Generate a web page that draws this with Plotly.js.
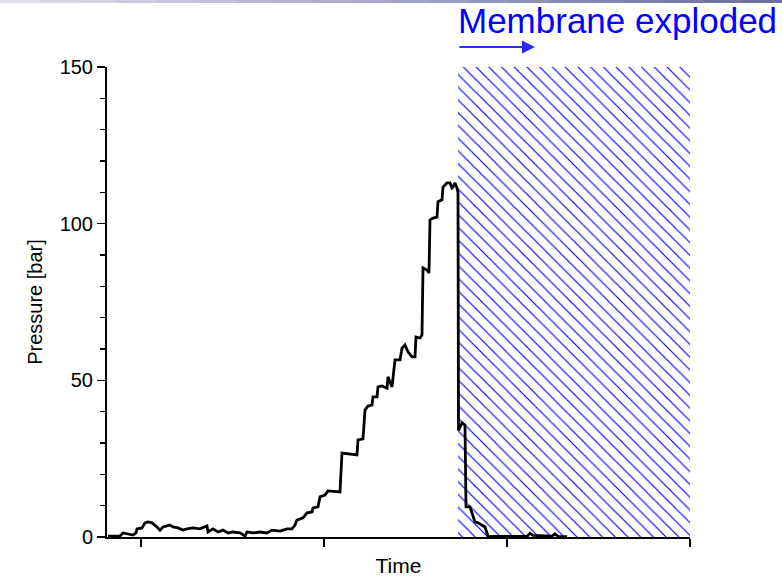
<!DOCTYPE html>
<html>
<head>
<meta charset="utf-8">
<script src="https://cdn.plot.ly/plotly-3.0.1.min.js"></script>
<style>html,body{margin:0;padding:0;background:#fff;}#chart{width:782px;height:585px;}</style>
</head>
<body>
<div id="chart"></div>
<script>
// Time (arbitrary units, unlabelled axis) and pressure [bar]
const time = [1, 13, 16, 26, 29, 30, 35, 38, 41, 45, 50, 53, 56, 60, 63, 66, 71, 76, 80, 86,
  93, 100, 101, 106, 111, 116, 121, 126, 133, 138, 140, 146, 153, 160, 165, 173, 180, 185, 188, 190,
  196, 200, 205, 206, 211, 213, 218, 221, 233, 235, 250, 251, 256, 258, 261, 265, 266, 270, 271, 275,
  280, 281, 285, 288, 293, 295, 298, 301, 305, 308, 309, 313, 315, 316, 320, 322, 323, 326, 330, 331,
  335, 336, 340, 343, 345, 346, 348, 350, 351, 351.5, 355, 358, 359, 363, 365, 368, 371, 375, 378, 380,
  381, 400, 420, 423, 426, 445, 448, 451, 460];
const pressure = [0.3, 0.3, 1.3, 0.6, 1.3, 2.6, 2.9, 4.5, 4.8, 4.5, 3.2, 2.2, 3.2, 3.5, 3.8, 3.2, 2.9, 2.2, 2.6, 2.9,
  2.6, 3.5, 1.6, 2.6, 1.6, 2.2, 1.3, 1.6, 1.3, 0.3, 1.6, 1.3, 1.6, 1.3, 2.2, 1.9, 2.6, 2.6, 3.8, 5.4,
  6.1, 7.7, 8.0, 9.3, 9.6, 12.8, 13.4, 14.7, 14.4, 26.8, 26.2, 31.0, 31.3, 40.5, 41.8, 42.1, 44.7, 44.7, 47.9, 48.2,
  47.5, 51.1, 47.9, 56.5, 56.5, 60.3, 61.3, 59.1, 57.5, 57.5, 63.8, 63.5, 64.5, 85.9, 85.2, 84.3, 101.2, 101.8, 102.1, 107,
  107.6, 111.7, 113, 113, 111.4, 111.7, 113, 111.4, 110, 34, 36.4, 35.7, 9.6, 9.6, 7.7, 4.8, 4.5, 3.8, 3.2, 1.3,
  0.3, 0.2, 0.2, 1.2, 0.5, 0.3, 1.0, 0.2, 0.1];

// "Membrane exploded" region
const explodeStart = 351;
const explodeEnd = 583;
const hatchTop = 150;
const arrowEnd = 428;

const hatch = {
  type: 'bar',
  x: [(explodeStart + explodeEnd) / 2],
  y: [hatchTop],
  width: [explodeEnd - explodeStart],
  marker: {
    color: 'rgba(0,0,0,0)',
    line: {width: 0},
    pattern: {shape: '\\', fgcolor: '#0000ff', bgcolor: 'rgba(0,0,0,0)', size: 9, solidity: 0.13}
  },
  hoverinfo: 'skip',
  showlegend: false
};

const curve = {
  type: 'scatter',
  mode: 'lines',
  x: time,
  y: pressure,
  line: {color: '#000000', width: 2.8},
  showlegend: false
};

// top gradient strip
const shapes = [];
const nSeg = 20;
for (let i = 0; i < nSeg; i++) {
  const t = i / (nSeg - 1);
  const r = Math.round(222 - t * 112), g = Math.round(222 - t * 112), b = Math.round(234 - t * 74);
  shapes.push({
    type: 'rect', xref: 'paper', yref: 'paper', layer: 'above',
    x0: -0.1835 + i * (1.3413 / nSeg), x1: -0.1835 + (i + 1) * (1.3413 / nSeg) + 0.002,
    y0: 1.1362, y1: 1.1426,
    line: {width: 0}, fillcolor: `rgb(${r},${g},${b})`
  });
}

const font = 'Liberation Sans, Arial, sans-serif';
const layout = {
  width: 782, height: 585,
  margin: {l: 107, r: 92, t: 67, b: 48},
  paper_bgcolor: '#ffffff', plot_bgcolor: '#ffffff',
  font: {family: font, color: '#000000'},
  title: {
    text: 'Membrane exploded',
    x: 458 / 782, xanchor: 'left', xref: 'container',
    y: 1 - 21 / 585, yanchor: 'middle', yref: 'container',
    font: {family: font, size: 35, color: '#0000ff'}
  },
  xaxis: {
    range: [0, 583],
    showgrid: false, zeroline: false,
    showline: true, linecolor: '#000', linewidth: 2,
    ticks: 'outside', ticklen: 8, tickwidth: 1.5, tickcolor: '#000',
    tick0: 34, dtick: 183,
    showticklabels: false,
    title: {text: 'Time', font: {family: font, size: 21, color: '#000'}, standoff: 12}
  },
  yaxis: {
    range: [0, 150],
    showgrid: false, zeroline: false,
    showline: true, linecolor: '#000', linewidth: 2,
    ticks: 'outside', ticklen: 8, tickwidth: 1.5, tickcolor: '#000',
    dtick: 50,
    minor: {dtick: 10, ticks: 'outside', ticklen: 5, tickwidth: 1.5, tickcolor: '#000'},
    tickfont: {family: font, size: 20, color: '#000'},
    title: {text: 'Pressure [bar]', font: {family: font, size: 20, color: '#000'}, standoff: 12}
  },
  annotations: [{
    x: arrowEnd, y: 1.0426, xref: 'x', yref: 'paper',
    ax: -(arrowEnd - explodeStart), ay: 0, axref: 'pixel', ayref: 'pixel',
    text: '', showarrow: true, arrowhead: 2, arrowsize: 1.3, arrowwidth: 2, arrowcolor: '#2a2aff',
    standoff: 0, startstandoff: 0
  }],
  shapes: shapes,
  bargap: 0
};

Plotly.newPlot('chart', [hatch, curve], layout, {staticPlot: true, displayModeBar: false});
</script>
</body>
</html>
